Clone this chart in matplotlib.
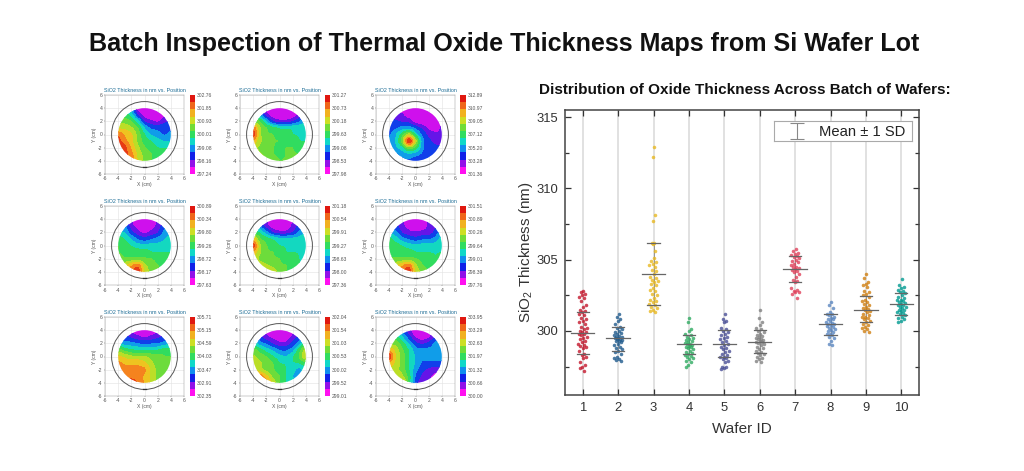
import numpy as np
import matplotlib
matplotlib.use("Agg")
import matplotlib.pyplot as plt
from matplotlib.colors import LinearSegmentedColormap
from matplotlib.patches import Circle

plt.rcParams['font.family'] = ['Liberation Sans', 'DejaVu Sans']
plt.rcParams['mathtext.fontset'] = 'custom'
plt.rcParams['mathtext.rm'] = 'Liberation Sans'
plt.rcParams['axes.unicode_minus'] = False

TITLE = "Batch Inspection of Thermal Oxide Thickness Maps from Si Wafer Lot"
SUBTITLE = "Distribution of Oxide Thickness Across Batch of Wafers:"

# ---- wafer maps: level estimates on a 1 cm grid, y=4..-4 (rows), x=-4..4 (cols)
map1 = [[5,5,3,0,0,0,0,0,1],[5,5,4,1.5,0,0,0,.5,1.5],[6,6,5.5,4,1.5,1,.5,1.5,2],[7,7,6.5,5.5,3.5,2.5,2.5,2.5,2.5],
        [9,8,7.5,6,4.5,3.5,3,2.5,3],[9.5,8.5,7.5,6,5,4.5,4,3.5,3.5],[10,9.5,8,6.5,5.5,5,4.5,4.5,4.5],
        [10,9.5,8.5,7,6,5.5,5,5,5],[10,9.5,9,7,6,5.5,5,5,5]]
map2 = [[3,2,.5,0,0,0,0,1,3],[4,3,1,0,0,0,0,1,3],[6,5.5,3.5,1.5,1,1,1.5,2.5,3.5],[9,6.5,5.5,5,4.5,4.5,4.5,4.5,4.5],
        [10,6.5,5.5,5.5,5,5,4.5,4.5,4.5],[8,6.5,6,5.5,5.5,5,5,4.5,4.5],[7,6,6,5.5,5,5.5,5.5,5,5],
        [7,6.5,6,5.5,5,5.5,5.5,5.5,5],[7,7,6.5,6,5.5,5.5,5.5,5.5,5]]
map3 = [[1,1,.5,0,0,0,0,0,0],[1.5,1,1,0,0,0,0,0,1],[2,2,1.5,1.5,0,0,0,0,1],[2,2.5,3,3,2.5,1.5,.5,.5,1],
        [2.5,3.5,5,7,4,2.5,1.5,1,1],[3,3.5,6,11,7,3,2,1.5,1.5],[3,3.5,4,6,5,3,2,2,2],
        [2.5,2.5,3,3.2,3,2.5,2,2,2],[2.5,2.5,2.5,2.5,2,2,2,2,2]]
map4 = [[3,2,1,0,0,.5,1,2,3],[3,3,1,.5,0,.5,1,2.5,3],[4,3.5,2,1,.5,1,1.5,3,3.5],[5,4.5,3.5,2.5,2,2.5,3,3.5,4],
        [5.5,5,4.5,4,4,4,4,4,4.5],[5.5,5,5,5,5,4.5,4.5,4.5,4.5],[6,5.5,5.5,5.5,5.5,5.5,5,5,5],
        [6.5,7,8,9,6.5,6,5.5,5,5],[7,8,9,10,7,6,5.5,5,5]]
map5 = [[3,2,1,0,0,0,1,2,3],[3.5,2.5,1,0,0,0,1,2,3],[5,4.5,3,1.5,1,1,1.5,3,3.5],[8,5.5,5,4.5,4,4,4,4,4.5],
        [10,6.5,5.5,5,4.5,4.5,4.5,4.5,4.5],[8,6.5,5.5,5.5,5,4.5,4.5,4.5,4.5],[7,6,5.5,5.5,5.5,5,5,4.5,4.5],
        [7,7,6.5,6,5.5,5.5,5,4.5,4.5],[7,7,7.5,7,6,5.5,5,5,5]]
map6 = [[2,2,1,0,0,0,1,1.5,3],[3,2,1,.5,0,.5,1,1.5,3],[3.5,3,1.5,1,1,1,1,2,3.5],[5,4,3,2.5,2,2.5,2.5,3,4],
        [5,5,4.5,4,4,4,4,4,4.5],[5.5,5,5,5,4.5,4.5,4.5,4.5,4.5],[5.5,5.5,5.5,5.5,5.5,5,5,4.5,5],
        [6,7,8,9,6.5,5.5,5,5,5],[7,8,9,10,7,6,5.5,5,5]]
map7 = [[2,1,.5,0,0,0,.5,1,2],[2.5,2,1.5,1,.5,1,1.5,2,2.5],[3.5,3,3,2.5,2.5,2.5,2.5,3,3.5],[6,5,4.5,4.5,4.5,4.5,4.5,5,5],
        [7.5,7,6.5,6.5,6.5,6,6,5.5,5.5],[8.5,8,8,8,7.5,6.5,6,5.5,5.5],[8.5,8.5,8.5,8.5,8.5,7,6,5.5,5.5],
        [9,9,8.5,8.5,8,7,6,5.5,5.5],[10,10,10,9,8,7,6,5.5,5.5]]
map8 = [[2,1,.5,.5,.5,.5,.5,1,2],[2.5,2,1,.5,0,0,1,2,3],[4,3,2.5,1.5,1,1,2,3,5],[6,5,4,3.5,2.5,2.5,3,5,7],
        [6.5,6,5.5,4.5,4,3.5,4.5,5.5,7.5],[7,6.5,6,5.5,4.5,4.5,4.5,4.5,5],[7.5,6.5,6,5.5,5,4.5,4,3,4.5],
        [9,9,7.5,6,5.5,4.5,3.5,3,4.5],[10,10,9,7,5.5,4.5,4,4,4.5]]
map9 = [[5,4,2.5,1,0,0,.5,1.5,2],[5.5,5,3.5,2,.5,0,.5,1.5,2.5],[6,6,5,3.5,2,1.5,2,3,3.5],[8,7,5.5,4.5,3,3,3,3,3.5],
        [10,7,6,4.5,3.5,3,3,3,3],[8,7,6,4.5,3.5,2.5,2.5,2.5,2.5],[7,6.5,6,4.5,3,2,1.5,1,1.5],
        [7.5,7.5,6.5,5,2.5,1.5,1,.5,1],[8,8,8,5,2,1,1,1,1]]
maps = [map1, map2, map3, map4, map5, map6, map7, map8, map9]

cbar_labels = [
    ["302.76","301.85","300.93","300.01","299.08","298.16","297.24"],
    ["301.27","300.73","300.18","299.63","299.08","298.53","297.98"],
    ["312.89","310.97","309.05","307.12","305.20","303.28","301.36"],
    ["300.89","300.34","299.80","299.26","298.72","298.17","297.63"],
    ["301.18","300.54","299.91","299.27","298.63","298.00","297.36"],
    ["301.51","300.89","300.26","299.64","299.01","298.39","297.76"],
    ["305.71","305.15","304.59","304.03","303.47","302.91","302.35"],
    ["302.04","301.54","301.03","300.53","300.02","299.52","299.01"],
    ["303.95","303.29","302.63","301.97","301.32","300.66","300.00"],
]
grid_x = [-4,-3,-2,-1,0,1,2,3,4]
grid_y = [4,3,2,1,0,-1,-2,-3,-4]
map_ticks = [-6,-4,-2,0,2,4,6]

# ---- thickness points (nm), read per wafer
wafer_ids = [1,2,3,4,5,6,7,8,9,10]
w1 = [302.8,302.7,302.6,302.5,302.4,302.3,302.1,301.8,301.7,301.5,301.4,301.3,301.2,301.1,300.9,300.8,300.7,300.6,300.5,300.3,
      300.2,300.1,300.0,299.95,299.9,299.8,299.75,299.7,299.6,299.5,299.4,299.3,299.2,299.1,299.0,298.95,298.9,298.8,298.6,
      298.4,298.3,298.2,298.1,297.8,297.6,297.5,297.4,297.2]
w2 = [301.2,301.0,300.8,300.7,300.5,300.3,300.2,300.1,300.0,299.9,299.85,299.8,299.7,299.65,299.6,299.55,299.5,299.5,299.45,
      299.4,299.35,299.3,299.3,299.2,299.1,299.0,298.9,298.8,298.7,298.6,298.5,298.4,298.2,298.1,298.0,297.95,297.9]
w3 = [312.9,312.2,308.1,307.7,306.2,306.2,306.1,305.6,305.1,304.9,304.8,304.7,304.6,304.5,304.3,304.2,304.0,303.8,303.7,303.6,
      303.5,303.4,303.3,303.2,303.0,302.9,302.8,302.6,302.5,302.3,302.2,302.1,302.0,301.9,301.8,301.7,301.6,301.5,301.4,301.3]
w4 = [300.9,300.6,300.1,300.0,299.8,299.7,299.6,299.5,299.4,299.35,299.3,299.2,299.15,299.1,299.05,299.0,298.95,298.9,298.85,
      298.8,298.7,298.6,298.5,298.45,298.4,298.3,298.25,298.2,298.1,298.0,297.9,297.8,297.6,297.5]
w5 = [301.2,300.8,300.7,300.6,300.2,300.1,300.0,299.9,299.8,299.7,299.6,299.5,299.4,299.3,299.2,299.1,299.0,298.9,298.8,298.7,
      298.6,298.5,298.4,298.3,298.2,298.15,298.1,298.0,297.9,297.8,297.5,297.45,297.4,297.35]
w6 = [301.5,300.9,300.6,300.4,300.2,300.1,300.0,299.9,299.8,299.7,299.65,299.6,299.5,299.45,299.4,299.35,299.3,299.25,299.2,299.15,
      299.1,299.0,298.9,298.8,298.7,298.6,298.5,298.45,298.4,298.3,298.2,298.1,298.0,297.9,297.8]
w7 = [305.75,305.6,305.5,305.4,305.3,305.25,305.2,305.1,305.0,304.9,304.8,304.7,304.6,304.5,304.45,304.4,304.35,304.3,304.2,304.1,
      304.0,303.8,303.6,303.5,303.4,303.0,302.9,302.8,302.75,302.7,302.6,302.3]
w8 = [302.05,301.85,301.6,301.3,301.2,301.15,301.1,301.0,300.9,300.85,300.8,300.7,300.6,300.55,300.5,300.45,300.4,300.35,300.3,300.2,
      300.1,300.05,300.0,299.9,299.8,299.75,299.7,299.6,299.5,299.3,299.1,299.0]
w9 = [304.0,303.7,303.4,303.3,303.2,303.1,302.8,302.7,302.6,302.5,302.4,302.2,302.1,302.0,301.9,301.8,301.7,301.6,301.55,301.5,
      301.4,301.3,301.2,301.1,301.0,300.95,300.9,300.8,300.7,300.6,300.5,300.4,300.3,300.2,300.1,300.0,299.95]
w10 = [303.65,303.2,303.1,303.0,302.9,302.8,302.7,302.65,302.5,302.4,302.3,302.2,302.15,302.1,302.0,301.95,301.9,301.85,301.8,301.7,
       301.65,301.6,301.5,301.45,301.4,301.3,301.25,301.2,301.1,301.0,300.9,300.8,300.7,300.65]
points = [w1,w2,w3,w4,w5,w6,w7,w8,w9,w10]
means = [299.85,299.5,304.0,299.05,299.1,299.25,304.35,300.47,301.5,301.87]
sd_hi = [301.3,300.25,306.2,299.7,300.05,300.07,305.27,301.2,302.45,302.65]
sd_lo = [298.4,298.6,301.85,298.35,298.2,298.45,303.45,299.7,300.6,301.1]
colors = ['#c4172c','#1f5a8c','#e8b820','#2eaa60','#4a4f96','#808080','#e0405a','#5a86c0','#d07f10','#009a90']

W, H = 1024, 471
fig = plt.figure(figsize=(W/100, H/100), dpi=100, facecolor='white')

def px_axes(x0, y0, x1, y1):
    return fig.add_axes([x0/W, 1-y1/H, (x1-x0)/W, (y1-y0)/H])

fig.text(504/W, 1-44/H, TITLE, ha='center', va='center', fontsize=18.05, fontweight='bold', color='#111111')
fig.text(539/W, 1-90/H, SUBTITLE, ha='left', va='center', fontsize=11, fontweight='bold', color='#111111')

cmap = LinearSegmentedColormap.from_list('thk', [(0.0,'#ff10f0'),(0.10,'#9010e8'),(0.20,'#1020e8'),(0.30,'#1090f0'),
                                                 (0.40,'#10d8c8'),(0.50,'#30dc60'),(0.62,'#80dc30'),(0.73,'#e8e020'),
                                                 (0.85,'#f89020'),(1.0,'#e01810')])
levels = np.linspace(-0.01, 10.01, 12)
col_x = [(105,184,190,195), (240,319,325,330), (376,455,460,466)]
row_y = [(95,174), (206,285), (317,396)]

def refine(grid):
    """Bilinear resampling of a read grid to 0.25 cm, lightly smoothed, for round contour bands."""
    g = np.array(grid, float)
    fx = np.linspace(-4, 4, 33); fy = np.linspace(4, -4, 33)
    gx = np.array(grid_x, float); gy = np.array(grid_y, float)[::-1]
    a = np.array([np.interp(fx, gx, row) for row in g])
    b = np.array([np.interp(fy, gy, col[::-1]) for col in a.T]).T
    k = np.array([1, 2, 1], float); k /= k.sum()
    p = np.pad(b, 1, mode='edge')
    p = np.apply_along_axis(lambda v: np.convolve(v, k, mode='same'), 0, p)
    p = np.apply_along_axis(lambda v: np.convolve(v, k, mode='same'), 1, p)
    return fx, fy, np.clip(p[1:-1, 1:-1], 0, 10)

for i, grid in enumerate(maps):
    cx0, cx1, bx0, bx1 = col_x[i % 3]
    ry0, ry1 = row_y[i // 3]
    ax = px_axes(cx0, ry0, cx1, ry1)
    ax.set_xlim(-6, 6); ax.set_ylim(-6, 6)
    fx, fy, z = refine(grid)
    cs = ax.contourf(fx, fy, z, levels=levels, cmap=cmap, zorder=2)
    cs.set_clip_path(Circle((0, 0), 4.0, transform=ax.transData))
    ax.add_patch(Circle((0, 0), 5, fill=False, ec='#555555', lw=0.7, zorder=3))
    ax.plot([-0.3, 0.3], [-5, -5], color='#333333', lw=0.9, zorder=3)
    ax.set_xticks(map_ticks); ax.set_yticks(map_ticks)
    ax.grid(color='#e2e2e2', lw=0.4, zorder=0)
    ax.set_axisbelow(True)
    ax.tick_params(labelsize=3.6, length=1, width=0.3, pad=0.8, colors='#555555')
    for s in ax.spines.values():
        s.set_linewidth(0.35); s.set_color('#999999')
    ax.set_xlabel("X (cm)", fontsize=3.6, labelpad=0.6, color='#555555')
    ax.set_ylabel("Y (cm)", fontsize=3.6, labelpad=0.4, color='#555555')
    ax.set_title("SiO2 Thickness in nm vs. Position", fontsize=3.9, color='#1d6d96', pad=2.5)

    cax = px_axes(bx0, ry0, bx1, ry1)
    cax.imshow(np.linspace(10, 0, 11).reshape(-1, 1), aspect='auto', cmap=cmap, extent=[0, 1, 0, 6], interpolation='nearest')
    cax.set_xticks([])
    cax.yaxis.tick_right()
    cax.set_yticks(range(7))
    cax.set_yticklabels(cbar_labels[i][::-1])
    cax.tick_params(axis='y', labelsize=3.6, length=0, pad=1, colors='#555555')
    for s in cax.spines.values():
        s.set_visible(False)

# ---- distribution panel
ax = px_axes(565, 110, 919, 395)
ax.set_xlim(0.5, 10.5)
ax.set_ylim(295.5, 315.5)
ax.set_xticks(wafer_ids)
ax.set_yticks([300, 305, 310, 315])
ax.set_yticks([297.5, 302.5, 307.5, 312.5], minor=True)
ax.tick_params(axis='both', which='major', direction='in', length=4.5, width=0.9, top=True, right=True,
               labelsize=9.4, colors='#333333', pad=5)
ax.tick_params(axis='y', which='minor', direction='in', length=3, width=0.9, right=True, color='#333333')
ax.grid(axis='x', color='#d9d9d9', lw=1.1, zorder=0)
ax.set_axisbelow(True)
for s in ax.spines.values():
    s.set_linewidth(1.1); s.set_color('#444444')

def jitter(xc, ys, max_px=4.5):
    """Spread points sideways by local density, using a golden-ratio stepping sequence."""
    ys = np.asarray(ys)
    out = []
    for k, y in enumerate(ys):
        n = np.sum(np.abs(ys - y) < 0.45)
        width = min(max_px, 0.8 + 0.5 * n)
        out.append(xc + width * (((k + 1) * 0.618034) % 1 * 2 - 1) / 35.4)
    return np.array(out)

for xc, ys, c, m, hi, lo in zip(wafer_ids, points, colors, means, sd_hi, sd_lo):
    ax.plot([xc, xc], [lo, hi], color='#777777', lw=0.5, zorder=2)
    ax.scatter(jitter(xc, ys), ys, s=6.5, color=c, alpha=0.8, lw=0, zorder=3)
    ax.plot([xc-0.33, xc+0.33], [m, m], color='#666666', lw=0.9, zorder=4)
    for v in (hi, lo):
        ax.plot([xc-0.17, xc+0.17], [v, v], color='#666666', lw=0.9, zorder=4)

ax.set_xlabel("Wafer ID", fontsize=11, color='#333333', labelpad=6)
ax.set_ylabel("SiO$_2$ Thickness (nm)", fontsize=11, color='#333333', labelpad=1)

# legend key
lg = px_axes(774, 121, 912, 141)
lg.set_xlim(0, 1); lg.set_ylim(0, 1); lg.set_xticks([]); lg.set_yticks([])
lg.set_zorder(5)
for s in lg.spines.values():
    s.set_linewidth(0.8); s.set_color('#aaaaaa')
lg.errorbar([0.17], [0.5], yerr=[0.42], color='#888888', capsize=5, lw=0.8, capthick=0.8)
lg.text(0.955, 0.47, "Mean ± 1 SD", ha='right', va='center', fontsize=10.6, color='#222222')

fig.savefig("out.png", dpi=100, facecolor='white')
